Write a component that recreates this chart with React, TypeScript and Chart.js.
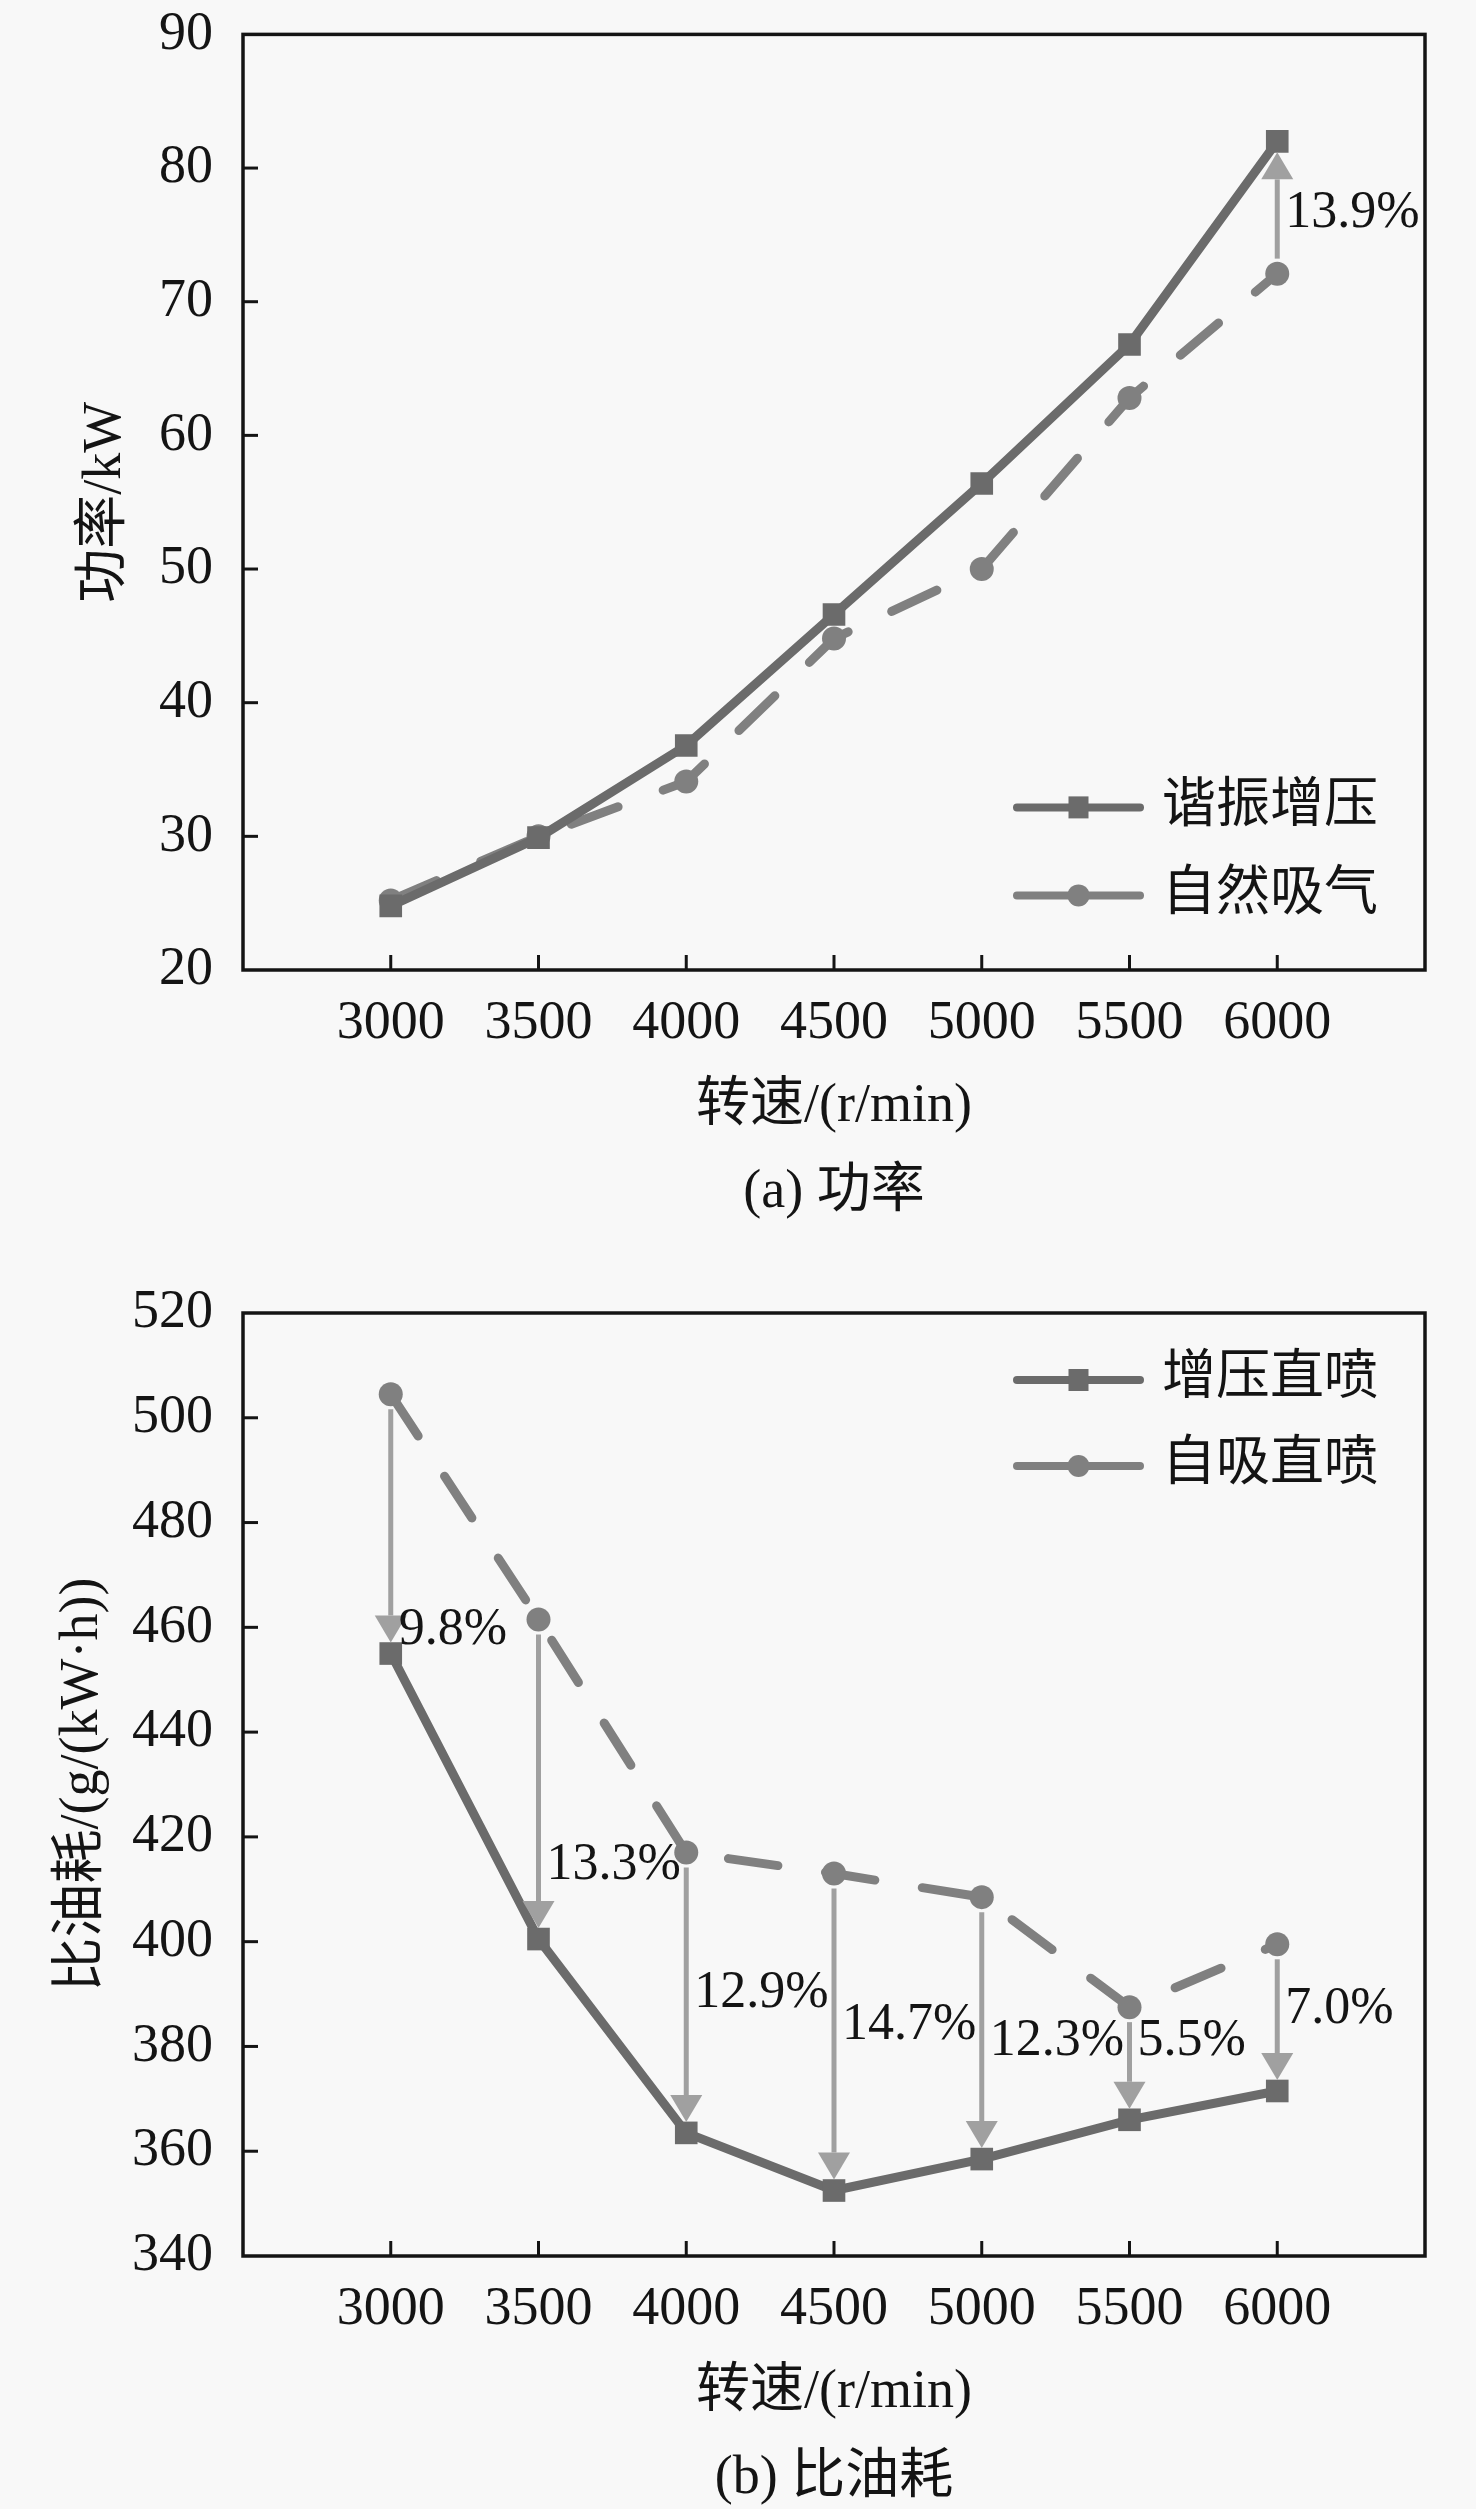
import { useEffect, useRef } from 'react';
import { Chart, registerables } from 'chart.js';

Chart.register(...registerables);

// engine speed, r/min
const speeds = [3000, 3500, 4000, 4500, 5000, 5500, 6000];

// (a) power, kW
const powerResonance = [24.8, 29.9, 36.8, 46.6, 56.4, 66.8, 82.0];
const powerNatural = [25.2, 30.0, 34.1, 44.8, 50.0, 62.8, 72.1];
const powerArrowIdx = [6];
const powerGainLabels = ['13.9%'];
const powerLabelY = [76.6];

// (b) specific fuel consumption, g/(kW·h)
const bsfcTurbo = [455, 400.5, 363.5, 352.5, 358.5, 366, 371.5];
const bsfcNatural = [504.5, 461.5, 417, 413, 408.5, 387.5, 399.5];
const bsfcArrowIdx = [0, 1, 2, 3, 4, 5, 6];
const bsfcGainLabels = ['9.8%', '13.3%', '12.9%', '14.7%', '12.3%', '5.5%', '7.0%'];
const bsfcLabelY = [459.5, 414.6, 390.2, 384.1, 381, 381, 387.1];

const FONT = "'Liberation Serif', 'Noto Sans CJK SC', serif";
const INK = '#141414';
const DARK = '#6b6b6b';
const MID = '#808080';
const ARROW = '#a0a0a0';
const BG = '#f8f8f8';

document.body.style.margin = '0';
document.body.style.background = BG;

type LegendRow = { label: string; color: string; marker: 'rect' | 'circle' };

type Decor = {
  yTitle: string;
  yTitleDx: number;
  xTitle: string;
  caption: string;
  legend: LegendRow[];
  legendRows: number[];
  arrowIdx: number[];
  from: number[];
  to: number[];
  labels: string[];
  labelY: number[];
};

function drawArrow(ctx: CanvasRenderingContext2D, x: number, y0: number, y1: number) {
  const dir = Math.sign(y1 - y0);
  const head = 27;
  const half = 16;
  ctx.strokeStyle = ARROW;
  ctx.fillStyle = ARROW;
  ctx.lineWidth = 5;
  ctx.lineCap = 'butt';
  ctx.beginPath();
  ctx.moveTo(x, y0);
  ctx.lineTo(x, y1 - dir * head);
  ctx.stroke();
  ctx.beginPath();
  ctx.moveTo(x, y1);
  ctx.lineTo(x - half, y1 - dir * head);
  ctx.lineTo(x + half, y1 - dir * head);
  ctx.closePath();
  ctx.fill();
}

function drawMarker(ctx: CanvasRenderingContext2D, kind: 'rect' | 'circle', x: number, y: number, color: string) {
  ctx.fillStyle = color;
  if (kind === 'rect') {
    ctx.fillRect(x - 10, y - 11, 20, 22);
  } else {
    ctx.beginPath();
    ctx.arc(x, y, 11, 0, Math.PI * 2);
    ctx.fill();
  }
}

function makeDecor(d: Decor) {
  return {
    id: 'decor',
    afterDatasetsDraw(chart: Chart) {
      const { ctx } = chart;
      const xs = chart.scales.x;
      const ys = chart.scales.y;
      ctx.save();
      d.arrowIdx.forEach((i, k) => {
        const px = xs.getPixelForValue(speeds[i]);
        const y0 = ys.getPixelForValue(d.from[i]);
        const y1 = ys.getPixelForValue(d.to[i]);
        const dir = Math.sign(y1 - y0);
        drawArrow(ctx, px, y0 + dir * 15, y1 - dir * 11);
        ctx.fillStyle = INK;
        ctx.font = `52px ${FONT}`;
        ctx.textAlign = 'left';
        ctx.textBaseline = 'middle';
        ctx.fillText(d.labels[k], px + 8, ys.getPixelForValue(d.labelY[k]));
      });
      ctx.restore();
    },
    afterDraw(chart: Chart) {
      const { ctx, chartArea: a } = chart;
      const xs = chart.scales.x;
      const ys = chart.scales.y;
      ctx.save();

      // inward tick marks
      ctx.strokeStyle = INK;
      ctx.lineWidth = 3;
      ys.ticks.forEach((t) => {
        if (t.value <= (ys.min as number) || t.value >= (ys.max as number)) return;
        const py = ys.getPixelForValue(t.value);
        ctx.beginPath();
        ctx.moveTo(a.left, py);
        ctx.lineTo(a.left + 15, py);
        ctx.stroke();
      });
      xs.ticks.forEach((t) => {
        if (!speeds.includes(t.value)) return;
        const px = xs.getPixelForValue(t.value);
        ctx.beginPath();
        ctx.moveTo(px, a.bottom);
        ctx.lineTo(px, a.bottom - 15);
        ctx.stroke();
      });

      // frame
      ctx.lineWidth = 3.5;
      ctx.strokeRect(a.left, a.top, a.right - a.left, a.bottom - a.top);

      // titles
      ctx.fillStyle = INK;
      ctx.font = `54px ${FONT}`;
      ctx.textAlign = 'center';
      ctx.textBaseline = 'middle';
      const cx = (a.left + a.right) / 2;
      ctx.fillText(d.xTitle, cx, a.bottom + 137);
      ctx.fillText(d.caption, cx, a.bottom + 223);
      ctx.save();
      ctx.translate(a.left - d.yTitleDx, (a.top + a.bottom) / 2);
      ctx.rotate(-Math.PI / 2);
      ctx.fillText(d.yTitle, 0, 0);
      ctx.restore();

      // legend
      d.legend.forEach((row, k) => {
        const y = a.top + d.legendRows[k];
        const x0 = a.right - 408;
        const x1 = a.right - 285;
        ctx.strokeStyle = row.color;
        ctx.lineWidth = 8;
        ctx.lineCap = 'round';
        ctx.beginPath();
        ctx.moveTo(x0, y);
        ctx.lineTo(x1, y);
        ctx.stroke();
        drawMarker(ctx, row.marker, (x0 + x1) / 2, y, row.color);
        ctx.fillStyle = INK;
        ctx.textAlign = 'left';
        ctx.font = `54px ${FONT}`;
        ctx.fillText(row.label, a.right - 263, y);
      });
      ctx.restore();
    },
  };
}

type PanelProps = {
  top: number;
  height: number;
  padTop: number;
  axisHeight: number;
  yMin: number;
  yMax: number;
  yStep: number;
  solid: number[];
  dashed: number[];
  decor: Decor;
};

function Panel({ top, height, padTop, axisHeight, yMin, yMax, yStep, solid, dashed, decor }: PanelProps) {
  const canvasRef = useRef<HTMLCanvasElement>(null);
  const chartRef = useRef<Chart | null>(null);

  useEffect(() => {
    if (!canvasRef.current) return;
    if (chartRef.current) chartRef.current.destroy();

    const tickFont = { family: FONT, size: 54 };

    chartRef.current = new Chart(canvasRef.current, {
      type: 'line',
      data: {
        datasets: [
          {
            label: decor.legend[0].label,
            data: speeds.map((s, i) => ({ x: s, y: solid[i] })),
            borderColor: DARK,
            backgroundColor: DARK,
            borderWidth: 9,
            pointStyle: 'rect',
            pointRadius: 16,
            pointBorderWidth: 0,
            pointBackgroundColor: DARK,
            tension: 0,
          },
          {
            label: decor.legend[1].label,
            data: speeds.map((s, i) => ({ x: s, y: dashed[i] })),
            borderColor: MID,
            backgroundColor: MID,
            borderWidth: 9,
            borderDash: [50, 48],
            borderCapStyle: 'round',
            pointStyle: 'circle',
            pointRadius: 12,
            pointBorderWidth: 0,
            pointBackgroundColor: MID,
            tension: 0,
          },
        ],
      },
      options: {
        responsive: false,
        animation: false,
        layout: { padding: { top: padTop, right: 51, left: 0, bottom: 0 } },
        plugins: {
          legend: { display: false },
          tooltip: { enabled: false },
        },
        scales: {
          x: {
            type: 'linear',
            min: 2500,
            max: 6500,
            grid: { display: false },
            border: { display: false },
            ticks: {
              stepSize: 500,
              maxRotation: 0,
              autoSkip: false,
              padding: 13,
              color: INK,
              font: tickFont,
              callback: (v) => (speeds.includes(Number(v)) ? String(v) : ''),
            },
            afterFit: (scale) => {
              scale.height = axisHeight;
            },
          },
          y: {
            min: yMin,
            max: yMax,
            grid: { display: false },
            border: { display: false },
            ticks: {
              stepSize: yStep,
              padding: 22,
              color: INK,
              font: tickFont,
            },
            afterFit: (scale) => {
              scale.width = 243;
            },
          },
        },
      },
      plugins: [makeDecor(decor)],
    });

    return () => {
      if (chartRef.current) {
        chartRef.current.destroy();
        chartRef.current = null;
      }
    };
  }, []);

  return (
    <canvas
      ref={canvasRef}
      width={1476}
      height={height}
      style={{ position: 'absolute', left: 0, top, width: 1476, height }}
    />
  );
}

export default function App() {
  return (
    <div style={{ position: 'relative', width: 1476, height: 2509, overflow: 'hidden', background: BG }}>
      <Panel
        top={-20}
        height={1270}
        padTop={47}
        axisHeight={280}
        yMin={20}
        yMax={90}
        yStep={10}
        solid={powerResonance}
        dashed={powerNatural}
        decor={{
          yTitle: '功率/kW',
          yTitleDx: 137,
          xTitle: '转速/(r/min)',
          caption: '(a) 功率',
          legend: [
            { label: '谐振增压', color: DARK, marker: 'rect' },
            { label: '自然吸气', color: MID, marker: 'circle' },
          ],
          legendRows: [773, 861],
          arrowIdx: powerArrowIdx,
          from: powerNatural,
          to: powerResonance,
          labels: powerGainLabels,
          labelY: powerLabelY,
        }}
      />
      <Panel
        top={1250}
        height={1259}
        padTop={63}
        axisHeight={253}
        yMin={340}
        yMax={520}
        yStep={20}
        solid={bsfcTurbo}
        dashed={bsfcNatural}
        decor={{
          yTitle: '比油耗/(g/(kW·h))',
          yTitleDx: 160,
          xTitle: '转速/(r/min)',
          caption: '(b) 比油耗',
          legend: [
            { label: '增压直喷', color: DARK, marker: 'rect' },
            { label: '自吸直喷', color: MID, marker: 'circle' },
          ],
          legendRows: [67, 153],
          arrowIdx: bsfcArrowIdx,
          from: bsfcNatural,
          to: bsfcTurbo,
          labels: bsfcGainLabels,
          labelY: bsfcLabelY,
        }}
      />
    </div>
  );
}
